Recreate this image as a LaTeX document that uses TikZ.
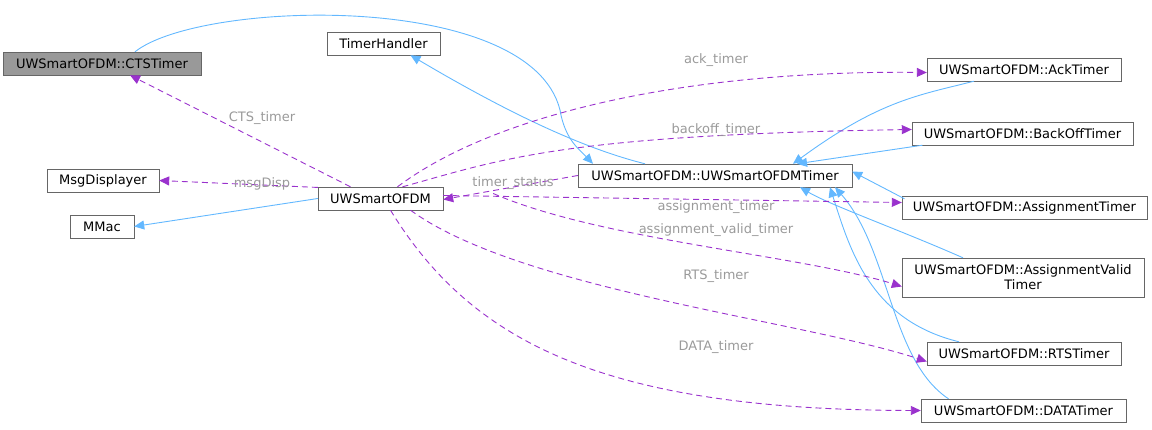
\documentclass[tikz,border=0pt]{standalone}
\usepackage{fontspec}
\setmainfont{DejaVu Sans}
\usetikzlibrary{arrows.meta,calc}
\definecolor{inh}{HTML}{63B8FF}
\definecolor{use}{HTML}{9A32CD}
\definecolor{lblc}{HTML}{9A9A9A}
\definecolor{bord}{HTML}{666666}
\begin{document}
\begin{tikzpicture}[x=1pt,y=-1pt,
  box/.style={draw=bord,fill=white,rectangle,minimum height=23pt,inner sep=2pt,font=\fontsize{13}{15}\selectfont},
  ih/.style={draw=inh,-{Triangle[length=10pt,width=9pt,fill=inh]},line width=0.9pt},
  us/.style={draw=use,dash pattern=on 6pt off 4pt,-{Triangle[length=10pt,width=9pt,fill=use]},line width=0.9pt},
  lbl/.style={text=lblc,font=\fontsize{13}{15}\selectfont,inner sep=1pt}]
\useasboundingbox (0,0) rectangle (1152,430);
\node[box,fill=black!40,minimum width=198pt] (cts) at (102,63.5) {UWSmartOFDM::CTSTimer};
\node[box,minimum width=113pt] (th) at (383.5,43.5) {TimerHandler};
\node[box,minimum width=112pt] (md) at (103,180.5) {MsgDisplayer};
\node[box,minimum width=64pt] (mm) at (102,226.5) {MMac};
\node[box,minimum width=125pt] (uw) at (380.5,198.5) {UWSmartOFDM};
\node[box,minimum width=274pt] (uwt) at (715,175.5) {UWSmartOFDM::UWSmartOFDMTimer};
\node[box,minimum width=194pt] (ack) at (1024,69.5) {UWSmartOFDM::AckTimer};
\node[box,minimum width=221pt] (bo) at (1022.5,133.5) {UWSmartOFDM::BackOffTimer};
\node[box,minimum width=245pt] (at) at (1024.5,207.5) {UWSmartOFDM::AssignmentTimer};
\node[box,minimum width=242pt,minimum height=39pt,align=center] (avt) at (1023,277.5) {UWSmartOFDM::AssignmentValid\\Timer};
\node[box,minimum width=194pt] (rts) at (1024,353.5) {UWSmartOFDM::RTSTimer};
\node[box,minimum width=205pt] (data) at (1023.5,410.5) {UWSmartOFDM::DATATimer};
% inheritance
\draw[ih] (uw.west) -- (mm.east);
\draw[ih] ([xshift=-70pt]uwt.north) .. controls (590,150) and (520,120) .. ([xshift=27pt]th.south);
\draw[ih] ([xshift=33pt]cts.north) .. controls (200,0) and (530,-10) .. (560,110) .. controls (565,140) and (580,150) .. ([xshift=-122pt]uwt.north);
\draw[ih] ([xshift=-50pt]ack.south) .. controls (920,95) and (880,100) .. ([xshift=78pt]uwt.north);
\draw[ih] ([xshift=-100pt]bo.south) -- ([xshift=82pt]uwt.north);
\draw[ih] ([xshift=-120pt,yshift=-3pt]at.north) -- ([xshift=0pt,yshift=4pt]uwt.east);
\draw[ih] ([xshift=-60pt]avt.north) .. controls (900,230) and (830,205) .. ([xshift=85pt]uwt.south);
\draw[ih] ([xshift=-65pt]rts.north) .. controls (870,320) and (850,250) .. ([xshift=115pt]uwt.south);
\draw[ih] ([xshift=-75pt]data.north) .. controls (890,360) and (890,250) .. ([xshift=120pt]uwt.south);
% usage
\draw[us] ([xshift=-30pt]uw.north) -- ([xshift=28pt]cts.south);
\node[lbl] (l1) at (262,118) {CTS\_timer};
\draw[us] (uw.170) -- (md.east);
\node[lbl] (l2) at (262,184) {msgDisp};
\draw[us] (uwt.west) -- ([yshift=-1pt]uw.east);
\node[lbl] (l3) at (513,183) {timer\_status};
\draw[us] ([xshift=17pt]uw.north) .. controls (500,110) and (700,70) .. ([yshift=-3pt]ack.west);
\node[lbl] (l4) at (716,60) {ack\_timer};
\draw[us] ([xshift=22pt]uw.north) .. controls (500,160) and (560,135) .. ([yshift=4pt]bo.west);
\node[lbl] (l5) at (716,130) {backoff\_timer};
\draw[us] ([yshift=3pt]uw.east) -- ([yshift=5pt]at.west);
\node[lbl] (l6) at (716,207) {assignment\_timer};
\draw[us] ([xshift=50pt,yshift=5pt]uw.east) .. controls (600,240) and (800,255) .. ([yshift=-9pt]avt.west);
\node[lbl] (l7) at (716,230) {assignment\_valid\_timer};
\draw[us] ([xshift=30pt]uw.south) .. controls (520,290) and (800,320) .. ([yshift=-8pt]rts.west);
\node[lbl] (l8) at (716,276) {RTS\_timer};
\draw[us] ([xshift=10pt]uw.south) .. controls (470,340) and (600,410) .. (data.west);
\node[lbl] (l9) at (716,347) {DATA\_timer};
\end{tikzpicture}
\end{document}
